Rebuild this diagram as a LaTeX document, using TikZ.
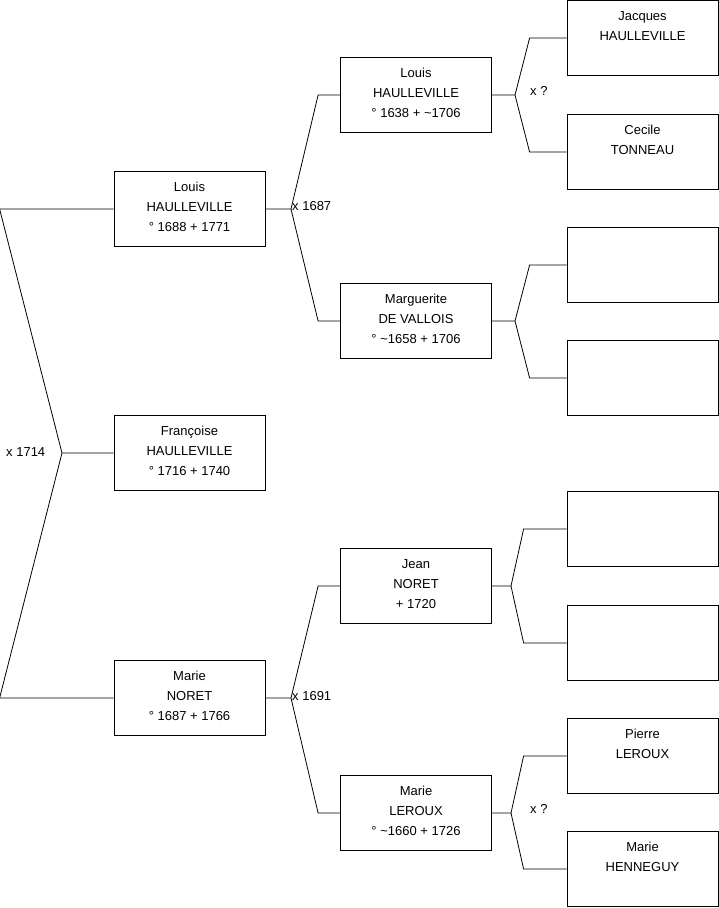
\documentclass[tikz,border=0pt]{standalone}
\usepackage{fontspec}
\setmainfont{Liberation Sans}
\usetikzlibrary{positioning,calc}

\newcommand{\gap}{\rule[-8pt]{0pt}{20pt}}
\newcommand{\ancestor}[3]{\gap#1\\\gap#2\\\gap#3}

\begin{document}
\begin{tikzpicture}[x=1pt,y=-1pt,
  person/.style={draw,line width=0.8pt,minimum width=151pt,minimum height=75pt,inner sep=0pt,align=center,font=\fontsize{13}{20}\selectfont},
  link/.style={line width=0.8pt},
  union/.style={anchor=west,inner sep=1pt,font=\fontsize{13}{20}\selectfont}]
\useasboundingbox (0,0) rectangle (719,908);

% Generation 1
\node[person] (louis) at (189.5,209) {\ancestor{Louis}{HAULLEVILLE}{° 1688 + 1771}};
\node[person] (francoise) at (189.5,453) {\ancestor{Françoise}{HAULLEVILLE}{° 1716 + 1740}};
\node[person] (marie) at (189.5,698) {\ancestor{Marie}{NORET}{° 1687 + 1766}};

% Generation 2
\node[person] (louisF) at (416,95) {\ancestor{Louis}{HAULLEVILLE}{° 1638 + \textasciitilde1706}};
\node[person] (marguerite) at (416,321) {\ancestor{Marguerite}{DE VALLOIS}{° \textasciitilde1658 + 1706}};
\node[person] (jean) at (416,586) {\ancestor{Jean}{NORET}{+ 1720}};
\node[person] (marieL) at (416,813) {\ancestor{Marie}{LEROUX}{° \textasciitilde1660 + 1726}};

% Generation 3
\node[person] (jacques) at (642.5,38) {\ancestor{Jacques}{HAULLEVILLE}{}};
\node[person] (cecile) at (642.5,152) {\ancestor{Cecile}{TONNEAU}{}};
\node[person] (blankA) at (642.5,265) {\ancestor{}{}{}};
\node[person] (blankB) at (642.5,378) {\ancestor{}{}{}};
\node[person] (blankC) at (642.5,529) {\ancestor{}{}{}};
\node[person] (blankD) at (642.5,643) {\ancestor{}{}{}};
\node[person] (pierre) at (642.5,756) {\ancestor{Pierre}{LEROUX}{}};
\node[person] (henneguy) at (642.5,869) {\ancestor{Marie}{HENNEGUY}{}};

% Unions
\coordinate (u0) at (62,453);
\coordinate (u1) at (291,209);
\coordinate (u2) at (291,698);
\coordinate (u3) at (515,95);
\coordinate (u4) at (515,321);
\coordinate (u5) at (511,586);
\coordinate (u6) at (511,813);

\node[union] (x0) at (5,452) {x 1714};
\node[union] (x1) at (291,206) {x 1687};
\node[union] (x2) at (291,696) {x 1691};
\node[union] (x3) at (529,91) {x ?};
\node[union] (x6) at (529,809) {x ?};

% Brackets
\draw[link] (francoise.west) -- (u0) -- ([xshift=-114pt]louis.west) -- (louis.west);
\draw[link] (u0) -- ([xshift=-114pt]marie.west) -- (marie.west);
\draw[link] (louis.east) -- (u1) -- ([xshift=-22pt]louisF.west) -- (louisF.west);
\draw[link] (u1) -- ([xshift=-22pt]marguerite.west) -- (marguerite.west);
\draw[link] (marie.east) -- (u2) -- ([xshift=-22pt]jean.west) -- (jean.west);
\draw[link] (u2) -- ([xshift=-22pt]marieL.west) -- (marieL.west);
\draw[link] (louisF.east) -- (u3) -- ([xshift=-37pt]jacques.west) -- (jacques.west);
\draw[link] (u3) -- ([xshift=-37pt]cecile.west) -- (cecile.west);
\draw[link] (marguerite.east) -- (u4) -- ([xshift=-37pt]blankA.west) -- (blankA.west);
\draw[link] (u4) -- ([xshift=-37pt]blankB.west) -- (blankB.west);
\draw[link] (jean.east) -- (u5) -- ([xshift=-43pt]blankC.west) -- (blankC.west);
\draw[link] (u5) -- ([xshift=-43pt]blankD.west) -- (blankD.west);
\draw[link] (marieL.east) -- (u6) -- ([xshift=-43pt]pierre.west) -- (pierre.west);
\draw[link] (u6) -- ([xshift=-43pt]henneguy.west) -- (henneguy.west);
\end{tikzpicture}
\end{document}
